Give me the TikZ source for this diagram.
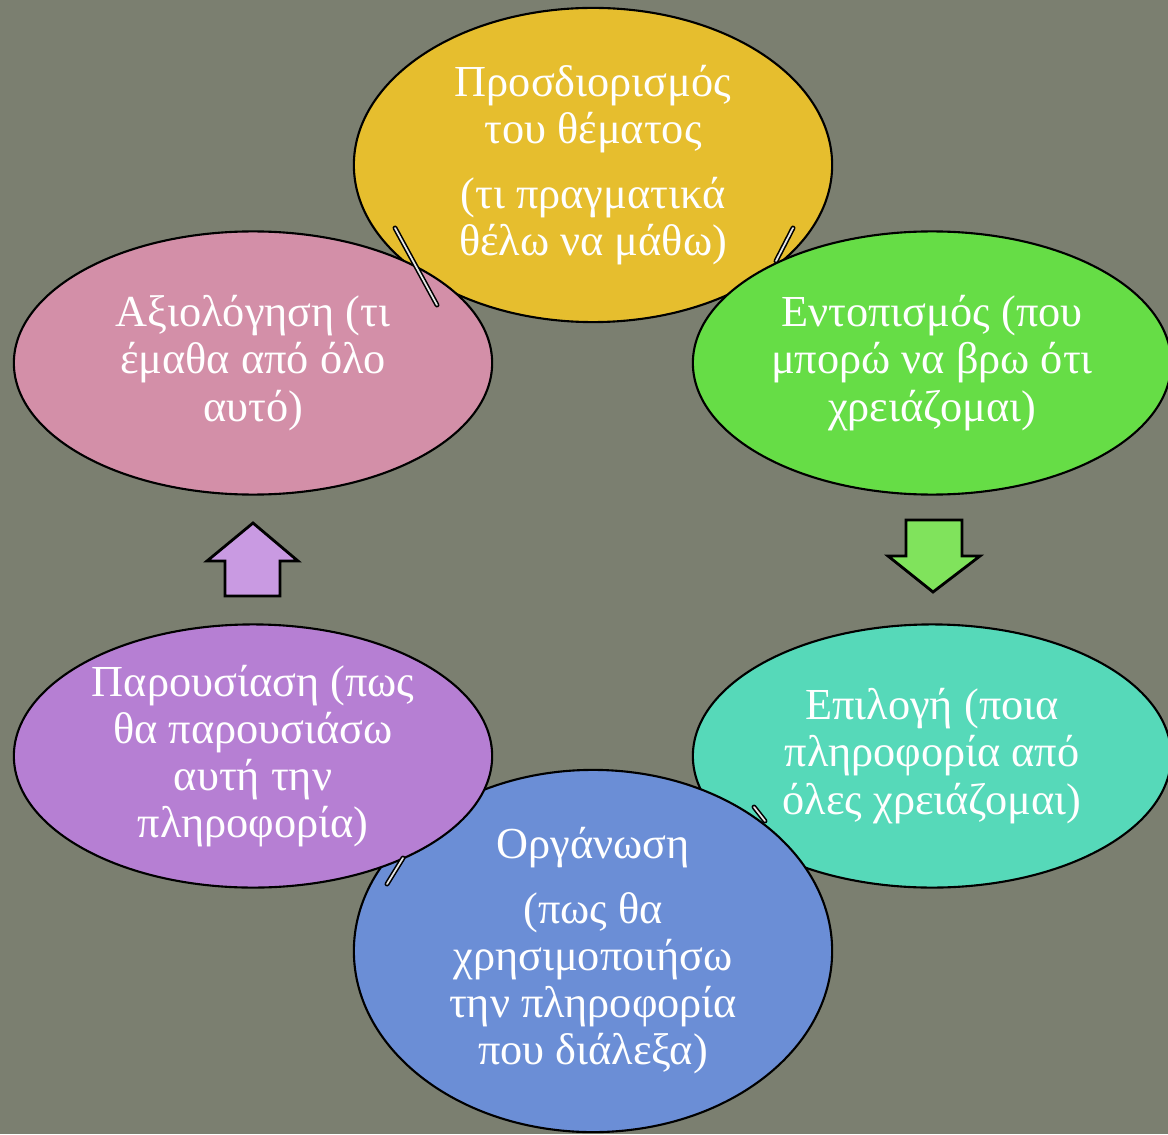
\documentclass[tikz,border=0pt]{standalone}
\usepackage{fontspec}
\setmainfont{Liberation Serif}
\usetikzlibrary{shapes.geometric}

\definecolor{bgcol}{HTML}{7B7F70}
\definecolor{yellowcol}{HTML}{E6BE2E}
\definecolor{pinkcol}{HTML}{D38FA8}
\definecolor{greencol}{HTML}{66DD46}
\definecolor{tealcol}{HTML}{56D9B9}
\definecolor{bluecol}{HTML}{6B8ED6}
\definecolor{purplecol}{HTML}{B67FD3}
\definecolor{uparrowcol}{HTML}{C99AE2}
\definecolor{downarrowcol}{HTML}{80E35C}

\newcommand{\stagefont}{\fontsize{12.6}{13.4}\selectfont}

\begin{document}
\begin{tikzpicture}[x=0.01cm, y=-0.01cm,
    stage/.style={ellipse, draw=black, line width=0.6pt, text=white,
      align=center, inner sep=0pt, font=\stagefont,
      minimum width=4.78cm, minimum height=2.63cm},
    tick/.style={draw=black, line width=0.45pt, line cap=round,
      double=gray!20, double distance=0.5pt},
    bigarrow/.style={draw=black, line width=0.8pt, line join=miter}]
  \useasboundingbox (0,0) rectangle (1168,1134);
  \fill[bgcol] (0,0) rectangle (1168,1134);

  % the six stages of the cycle
  \node[stage, fill=yellowcol, minimum height=3.14cm] (orismos) at (593,165)
    {Προσδιορισμός\\ του θέματος\\[5pt] (τι πραγματικά\\ θέλω να μάθω)};
  \node[stage, fill=greencol] (entopismos) at (932,363)
    {Εντοπισμός (που\\ μπορώ να βρω ότι\\ χρειάζομαι)};
  \node[stage, fill=tealcol] (epilogi) at (932,756)
    {Επιλογή (ποια\\ πληροφορία από\\ όλες χρειάζομαι)};
  \node[stage, fill=bluecol, minimum height=3.62cm] (organosi) at (593,951)
    {Οργάνωση\\[5pt] (πως θα\\ χρησιμοποιήσω\\ την πληροφορία\\ που διάλεξα)};
  \node[stage, fill=purplecol] (parousiasi) at (253,756)
    {Παρουσίαση (πως\\ θα παρουσιάσω\\ αυτή την\\ πληροφορία)};
  \node[stage, fill=pinkcol] (axiologisi) at (253,363)
    {Αξιολόγηση (τι\\ έμαθα από όλο\\ αυτό)};

  % little connector ends between the stages
  \coordinate (t1a) at (395,228);
  \coordinate (t1b) at (437,305);
  \coordinate (t2a) at (793,228);
  \coordinate (t2b) at (776,261);
  \coordinate (t3a) at (754,807);
  \coordinate (t3b) at (765,821);
  \coordinate (t4a) at (403,858);
  \coordinate (t4b) at (387,884);
  \draw[tick] (t1a) -- (t1b);
  \draw[tick] (t2a) -- (t2b);
  \draw[tick] (t3a) -- (t3b);
  \draw[tick] (t4a) -- (t4b);

  % block arrows
  \draw[bigarrow, fill=downarrowcol] (906,520) -- (962,520) -- (962,556)
    -- (980,556) -- (933,592) -- (888,556) -- (906,556) -- cycle;
  \draw[bigarrow, fill=uparrowcol] (253,523) -- (298,561) -- (280,561)
    -- (280,596) -- (225,596) -- (225,561) -- (207,561) -- cycle;
\end{tikzpicture}
\end{document}
